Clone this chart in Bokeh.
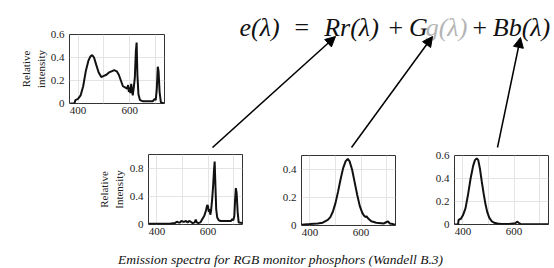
from bokeh.plotting import figure
from bokeh.models import Range1d, FixedTicker, Arrow, NormalHead
from bokeh.layouts import row, column
from bokeh.core.properties import value
from bokeh.embed import file_html
from bokeh.resources import INLINE

# ---- data ----
x_ticks = [400, 500, 600, 700]
x_labels = {400: "400", 500: "", 600: "600", 700: ""}

sum_nm = [370, 386, 390, 400, 410, 420, 430, 440, 448, 455, 462, 470, 480, 490, 500, 510,
          520, 530, 540, 550, 558, 566, 574, 582, 590, 594, 597, 600, 603, 606, 609, 612,
          616, 620, 624, 627, 630, 634, 640, 650, 670, 690, 697, 701, 705, 709, 712, 716,
          721, 735]
sum_val = [0.0, 0.0, 0.03, 0.04, 0.07, 0.15, 0.28, 0.37, 0.41, 0.42, 0.40, 0.34, 0.27, 0.23,
           0.24, 0.25, 0.27, 0.28, 0.29, 0.28, 0.25, 0.20, 0.15, 0.14, 0.13, 0.16, 0.10, 0.14,
           0.09, 0.17, 0.12, 0.07, 0.14, 0.22, 0.45, 0.53, 0.25, 0.08, 0.03, 0.02, 0.02, 0.02,
           0.04, 0.03, 0.12, 0.32, 0.28, 0.10, 0.01, 0.0]

red_nm = [367, 400, 450, 470, 478, 484, 490, 496, 502, 508, 514, 520, 526, 532, 540, 548, 552,
          556, 562, 570, 578, 586, 592, 597, 600, 603, 606, 609, 612, 616, 620, 623, 626, 629,
          632, 636, 642, 650, 670, 690, 695, 699, 703, 706, 709, 712, 716, 720, 735]
red_val = [0.01, 0.01, 0.01, 0.02, 0.04, 0.03, 0.03, 0.05, 0.04, 0.04, 0.05, 0.03, 0.05, 0.04,
           0.02, 0.03, 0.07, 0.03, 0.02, 0.03, 0.08, 0.13, 0.20, 0.28, 0.26, 0.18, 0.22, 0.14,
           0.20, 0.35, 0.55, 0.75, 0.90, 0.55, 0.22, 0.10, 0.06, 0.05, 0.05, 0.05, 0.08, 0.06,
           0.12, 0.35, 0.52, 0.45, 0.18, 0.03, 0.02]

green_nm = [367, 400, 430, 450, 470, 480, 490, 500, 510, 520, 530, 540, 548, 555, 565, 575,
            585, 595, 605, 612, 618, 622, 628, 640, 660, 690, 700, 706, 712, 725, 735]
green_val = [0.005, 0.01, 0.015, 0.02, 0.04, 0.06, 0.10, 0.16, 0.24, 0.33, 0.41, 0.46, 0.475,
             0.46, 0.40, 0.31, 0.22, 0.14, 0.09, 0.07, 0.06, 0.065, 0.05, 0.03, 0.02, 0.015,
             0.025, 0.03, 0.015, 0.01, 0.005]

blue_nm = [367, 381, 383, 392, 400, 410, 420, 430, 440, 447, 454, 460, 467, 474, 481, 488,
           495, 503, 512, 522, 535, 550, 580, 605, 612, 618, 625, 650, 700, 735]
blue_val = [0.0, 0.0, 0.04, 0.05, 0.08, 0.14, 0.26, 0.40, 0.51, 0.56, 0.575, 0.56, 0.48, 0.37,
            0.27, 0.18, 0.11, 0.06, 0.03, 0.015, 0.008, 0.005, 0.005, 0.01, 0.025, 0.015,
            0.005, 0.003, 0.003, 0.003]

formula_parts = ["e(λ)", "=", "Rr(λ)", "+", "G", "g(λ)", "+", "Bb(λ)"]
formula_colors = ["#111111", "#111111", "#111111", "#111111", "#111111", "#b4b4b4",
                  "#111111", "#111111"]
caption_text = "Emission spectra for RGB monitor phosphors (Wandell B.3)"

SERIF = "Liberation Serif"


def spectrum(nm, val, ymax, yticks, ylabel, width, height, bl, bt, bb, br, lab_off=-1):
    p = figure(width=width, height=height, x_range=Range1d(367, 735), y_range=Range1d(0, ymax),
               output_backend="svg", toolbar_location=None, frame_align=False,
               min_border_left=bl, min_border_top=bt, min_border_bottom=bb, min_border_right=br)
    p.line(nm, val, line_width=2, color="#111111")
    p.xaxis.ticker = FixedTicker(ticks=x_ticks)
    p.xaxis.major_label_overrides = x_labels
    p.yaxis.ticker = FixedTicker(ticks=yticks)
    p.yaxis.major_label_overrides = {t: ("0" if t == 0 else f"{t:g}") for t in yticks}
    for ax in p.axis:
        ax.axis_line_color = None
        ax.major_tick_line_color = None
        ax.minor_tick_line_color = None
        ax.major_tick_out = 0
        ax.major_tick_in = 0
        ax.minor_tick_out = 0
        ax.major_label_text_font = SERIF
        ax.major_label_text_font_size = "11px"
        ax.major_label_text_color = "#222222"
    p.xaxis.major_label_standoff = 3
    p.yaxis.major_label_standoff = 5
    if ylabel:
        p.yaxis.axis_label = ylabel
        p.yaxis.axis_label_text_font = SERIF
        p.yaxis.axis_label_text_font_size = "11px"
        p.yaxis.axis_label_text_font_style = "normal"
        p.yaxis.axis_label_text_color = "#222222"
        p.yaxis.axis_label_standoff = lab_off
    p.grid.grid_line_color = "#e4e4e4"
    p.grid.grid_line_width = 1
    p.outline_line_color = "#333333"
    p.outline_line_width = 1
    return p


def blank(width, height, xr, yr):
    p = figure(width=width, height=height, x_range=Range1d(*xr), y_range=Range1d(*yr),
               output_backend="svg", toolbar_location=None, x_axis_type=None, y_axis_type=None,
               min_border=0, frame_align=False)
    p.grid.visible = False
    p.outline_line_color = None
    return p


top_left = spectrum(sum_nm, sum_val, 0.6, [0, 0.2, 0.4, 0.6], "Relative\nintensity",
                    180, 148, 69, 34, 45, 16, lab_off=1)

# canvas for the formula and the arrows (1 data unit = 1 screen pixel)
canvas = blank(374, 148, (180, 554), (148, 0))
canvas.text(x=[259, 301, 351, 395, 418, 446, 479, 521], y=[27] * 8,
            text=formula_parts, text_color=formula_colors,
            text_font=value(SERIF), text_font_size="26px", text_font_style="italic",
            text_align="center", text_baseline="alphabetic")
for xs, ys, xe, ye in [(212, 147, 335, 36), (351, 147, 432, 36), (497, 147, 520, 37)]:
    canvas.add_layout(Arrow(end=NormalHead(size=10, fill_color="black", line_color="black"),
                            x_start=xs, y_start=ys, x_end=xe, y_end=ye,
                            line_width=1.5, line_color="black"))

red = spectrum(red_nm, red_val, 1.0, [0, 0.4, 0.8], "Relative\nIntensity",
               262, 94, 148, 6, 18, 20, lab_off=2)
green = spectrum(green_nm, green_val, 0.5, [0, 0.2, 0.4], None,
                 162, 94, 39, 7, 17, 29)
blue = spectrum(blue_nm, blue_val, 0.6, [0, 0.2, 0.4, 0.6], None,
                128, 94, 30, 7, 18, 4)

cap = blank(552, 26, (0, 552), (268, 242))
cap.text(x=[280], y=[259], text=[caption_text], text_color="#111111",
         text_font=value(SERIF), text_font_size="13.5px", text_font_style="italic",
         text_align="center", text_baseline="alphabetic")

layout = column(
    row(top_left, canvas),
    row(red, green, blue),
    cap,
)

open("out.html", "w").write(file_html(layout, INLINE))
